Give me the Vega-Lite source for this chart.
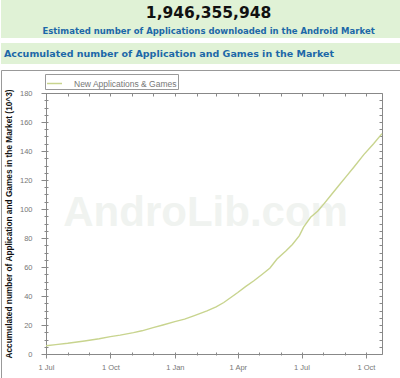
{
  "$schema": "https://vega.github.io/schema/vega-lite/v6.json",
  "padding": 0,
  "background": "white",
  "spacing": 5,
  "config": {"view": {"stroke": null}, "font": "Liberation Sans"},
  "vconcat": [
    {
      "width": 400,
      "height": 38,
      "view": {"fill": "#e0f2d6", "stroke": null},
      "data": {"values": [
        {"line": "a", "text": "1,946,355,948"},
        {"line": "b", "text": "Estimated number of Applications downloaded in the Android Market"}
      ]},
      "layer": [
        {
          "transform": [{"filter": "datum.line === 'a'"}],
          "mark": {"type": "text", "font": "DejaVu Sans", "fontWeight": "bold", "fontSize": 15.5, "color": "#111111", "baseline": "middle"},
          "encoding": {
            "x": {"datum": "c", "type": "nominal", "axis": null, "scale": {"type": "point", "domain": ["c"], "align": 0.519}},
            "y": {"field": "line", "type": "nominal", "axis": null, "scale": {"type": "point", "domain": ["a", "b"], "padding": 0.5556, "align": 0.65}},
            "text": {"field": "text"}
          }
        },
        {
          "transform": [{"filter": "datum.line === 'b'"}],
          "mark": {"type": "text", "font": "DejaVu Sans", "fontWeight": "bold", "fontSize": 8.5, "color": "#1c68a8", "baseline": "middle"},
          "encoding": {
            "x": {"datum": "c", "type": "nominal", "axis": null, "scale": {"type": "point", "domain": ["c"], "align": 0.519}},
            "y": {"field": "line", "type": "nominal", "axis": null, "scale": {"type": "point", "domain": ["a", "b"], "padding": 0.5556, "align": 0.65}},
            "text": {"field": "text"}
          }
        }
      ]
    },
    {
      "width": 400,
      "height": 21,
      "view": {"fill": "#e0f2d6", "stroke": null},
      "data": {"values": [{"text": "Accumulated number of Application and Games in the Market"}]},
      "mark": {"type": "text", "font": "DejaVu Sans", "fontWeight": "bold", "fontSize": 9.5, "color": "#1c68a8", "align": "left", "baseline": "middle"},
      "encoding": {
        "x": {"datum": "c", "type": "nominal", "axis": null, "scale": {"type": "point", "domain": ["c"], "align": 0.0075}},
        "text": {"field": "text"}
      }
    },
    {
      "width": 399,
      "height": 308,
      "view": {"fill": "white", "stroke": "#999999"},
      "data": {"values": [
        {"date": "2009-07-01T00:00", "value": 5.7},
        {"date": "2009-07-15T00:00", "value": 6.5},
        {"date": "2009-08-01T00:00", "value": 7.4},
        {"date": "2009-08-25T00:00", "value": 9.0},
        {"date": "2009-09-15T00:00", "value": 10.5},
        {"date": "2009-10-01T00:00", "value": 12.0},
        {"date": "2009-10-15T00:00", "value": 13.0},
        {"date": "2009-11-03T00:00", "value": 14.7},
        {"date": "2009-11-15T00:00", "value": 16.0},
        {"date": "2009-12-01T00:00", "value": 18.2},
        {"date": "2009-12-15T00:00", "value": 20.0},
        {"date": "2010-01-01T00:00", "value": 22.3},
        {"date": "2010-01-15T00:00", "value": 24.0},
        {"date": "2010-01-28T00:00", "value": 26.3},
        {"date": "2010-02-16T00:00", "value": 29.7},
        {"date": "2010-03-01T00:00", "value": 32.5},
        {"date": "2010-03-12T00:00", "value": 35.5},
        {"date": "2010-03-22T00:00", "value": 39.0},
        {"date": "2010-04-01T00:00", "value": 42.4},
        {"date": "2010-04-12T00:00", "value": 46.5},
        {"date": "2010-04-24T00:00", "value": 50.5},
        {"date": "2010-05-06T00:00", "value": 55.0},
        {"date": "2010-05-17T00:00", "value": 59.3},
        {"date": "2010-05-27T00:00", "value": 65.5},
        {"date": "2010-06-09T00:00", "value": 71.2},
        {"date": "2010-06-18T00:00", "value": 75.5},
        {"date": "2010-06-28T00:00", "value": 81.6},
        {"date": "2010-07-04T00:00", "value": 87.5},
        {"date": "2010-07-14T00:00", "value": 94.3},
        {"date": "2010-07-24T00:00", "value": 98.5},
        {"date": "2010-08-02T00:00", "value": 103.5},
        {"date": "2010-08-12T00:00", "value": 109.5},
        {"date": "2010-08-23T00:00", "value": 116.0},
        {"date": "2010-09-03T00:00", "value": 122.5},
        {"date": "2010-09-14T00:00", "value": 129.0},
        {"date": "2010-09-28T00:00", "value": 137.5},
        {"date": "2010-10-12T00:00", "value": 145.0},
        {"date": "2010-10-24T00:00", "value": 152.0}
      ]},
      "resolve": {"axis": {"x": "independent", "y": "independent"}},
      "layer": [
        {
          "data": {"values": [{"w": "AndroLib.com"}]},
          "mark": {"type": "text", "font": "Liberation Sans", "fontWeight": "bold", "fontSize": 42, "color": "#f0f3f0"},
          "encoding": {
            "x": {"datum": {"year": 2010, "month": 2, "date": 14}, "type": "temporal", "axis": null,
                  "scale": {"domain": [{"year": 2009, "month": 7, "date": 1}, {"year": 2010, "month": 10, "date": 24}], "range": [45, 381]}},
            "y": {"datum": 97, "type": "quantitative", "axis": null,
                  "scale": {"domain": [0, 180], "range": [284, 23], "nice": false, "zero": false}},
            "text": {"field": "w"}
          }
        },
        {
          "mark": {"type": "line", "strokeWidth": 1.4},
          "encoding": {
            "x": {"field": "date", "type": "temporal",
                  "scale": {"domain": [{"year": 2009, "month": 7, "date": 1}, {"year": 2010, "month": 10, "date": 24}], "range": [45, 381]},
                  "axis": {"orient": "bottom", "offset": -24, "title": null, "grid": false, "format": "%-d %b",
                           "values": [{"year": 2009, "month": 7, "date": 1}, {"year": 2009, "month": 10, "date": 1}, {"year": 2010, "month": 1, "date": 1}, {"year": 2010, "month": 4, "date": 1}, {"year": 2010, "month": 7, "date": 1}, {"year": 2010, "month": 10, "date": 1}],
                           "tickSize": 4, "tickColor": "#888888", "domainColor": "#888888", "labelColor": "#777777",
                           "labelFont": "Liberation Sans", "labelFontSize": 7.5, "labelPadding": 5, "labelFlush": false, "labelOverlap": false}},
            "y": {"field": "value", "type": "quantitative",
                  "scale": {"domain": [0, 180], "range": [284, 23], "nice": false, "zero": false},
                  "axis": {"orient": "left", "offset": -45, "grid": false,
                           "values": [0, 20, 40, 60, 80, 100, 120, 140, 160, 180],
                           "tickSize": 5, "tickColor": "#888888", "domainColor": "#888888", "labelColor": "#777777",
                           "labelFont": "Liberation Sans", "labelFontSize": 7.5, "labelPadding": 9, "labelFlush": false, "labelOverlap": false,
                           "title": "Accumulated number of Application and Games in the Market (10^3)",
                           "titleFont": "Liberation Sans", "titleFontSize": 8.3, "titleFontWeight": "bold", "titleColor": "#111111", "titlePadding": 6}},
            "color": {"datum": "New Applications & Games", "type": "nominal",
                      "scale": {"range": ["#c8d48e"]},
                      "legend": {"orient": "none", "legendX": 44, "legendY": 74, "direction": "horizontal", "title": null,
                                 "strokeColor": "#999999", "fillColor": "white", "padding": 1,
                                 "symbolType": "stroke", "symbolSize": 225, "symbolStrokeWidth": 1.5,
                                 "labelFont": "Liberation Sans", "labelFontSize": 8.5, "labelColor": "#777777", "labelOffset": 11}}
          }
        },
        {
          "mark": {"type": "line", "opacity": 0},
          "encoding": {
            "x": {"field": "date", "type": "temporal",
                  "scale": {"domain": [{"year": 2009, "month": 7, "date": 1}, {"year": 2010, "month": 10, "date": 24}], "range": [45, 381]},
                  "axis": {"orient": "bottom", "offset": -26, "title": null, "grid": false, "labels": false, "domain": false,
                           "values": [{"year": 2009, "month": 7, "date": 1}, {"year": 2009, "month": 8, "date": 1}, {"year": 2009, "month": 9, "date": 1}, {"year": 2009, "month": 10, "date": 1}, {"year": 2009, "month": 11, "date": 1}, {"year": 2009, "month": 12, "date": 1}, {"year": 2010, "month": 1, "date": 1}, {"year": 2010, "month": 2, "date": 1}, {"year": 2010, "month": 3, "date": 1}, {"year": 2010, "month": 4, "date": 1}, {"year": 2010, "month": 5, "date": 1}, {"year": 2010, "month": 6, "date": 1}, {"year": 2010, "month": 7, "date": 1}, {"year": 2010, "month": 8, "date": 1}, {"year": 2010, "month": 9, "date": 1}, {"year": 2010, "month": 10, "date": 1}],
                           "tickSize": 3, "tickColor": "#888888"}},
            "y": {"field": "value", "type": "quantitative",
                  "scale": {"domain": [0, 180], "range": [284, 23], "nice": false, "zero": false},
                  "axis": {"orient": "left", "offset": -47, "title": null, "grid": false, "labels": false, "domain": false,
                           "values": [0, 5, 10, 15, 20, 25, 30, 35, 40, 45, 50, 55, 60, 65, 70, 75, 80, 85, 90, 95, 100, 105, 110, 115, 120, 125, 130, 135, 140, 145, 150, 155, 160, 165, 170, 175, 180],
                           "tickSize": 4, "tickColor": "#888888"}}
          }
        },
        {
          "mark": {"type": "line", "opacity": 0},
          "encoding": {
            "x": {"field": "date", "type": "temporal",
                  "scale": {"domain": [{"year": 2009, "month": 7, "date": 1}, {"year": 2010, "month": 10, "date": 24}], "range": [45, 381]},
                  "axis": {"orient": "top", "offset": -23, "title": null, "grid": false, "labels": false,
                           "values": [{"year": 2009, "month": 7, "date": 1}, {"year": 2009, "month": 8, "date": 1}, {"year": 2009, "month": 9, "date": 1}, {"year": 2009, "month": 10, "date": 1}, {"year": 2009, "month": 11, "date": 1}, {"year": 2009, "month": 12, "date": 1}, {"year": 2010, "month": 1, "date": 1}, {"year": 2010, "month": 2, "date": 1}, {"year": 2010, "month": 3, "date": 1}, {"year": 2010, "month": 4, "date": 1}, {"year": 2010, "month": 5, "date": 1}, {"year": 2010, "month": 6, "date": 1}, {"year": 2010, "month": 7, "date": 1}, {"year": 2010, "month": 8, "date": 1}, {"year": 2010, "month": 9, "date": 1}, {"year": 2010, "month": 10, "date": 1}],
                           "tickSize": -3, "tickColor": "#888888", "domainColor": "#888888"}},
            "y": {"field": "value", "type": "quantitative",
                  "scale": {"domain": [0, 180], "range": [284, 23], "nice": false, "zero": false},
                  "axis": {"orient": "right", "offset": -18, "title": null, "grid": false, "labels": false,
                           "values": [0, 5, 10, 15, 20, 25, 30, 35, 40, 45, 50, 55, 60, 65, 70, 75, 80, 85, 90, 95, 100, 105, 110, 115, 120, 125, 130, 135, 140, 145, 150, 155, 160, 165, 170, 175, 180],
                           "tickSize": -3, "tickColor": "#888888", "domainColor": "#888888"}}
          }
        }
      ]
    }
  ]
}
